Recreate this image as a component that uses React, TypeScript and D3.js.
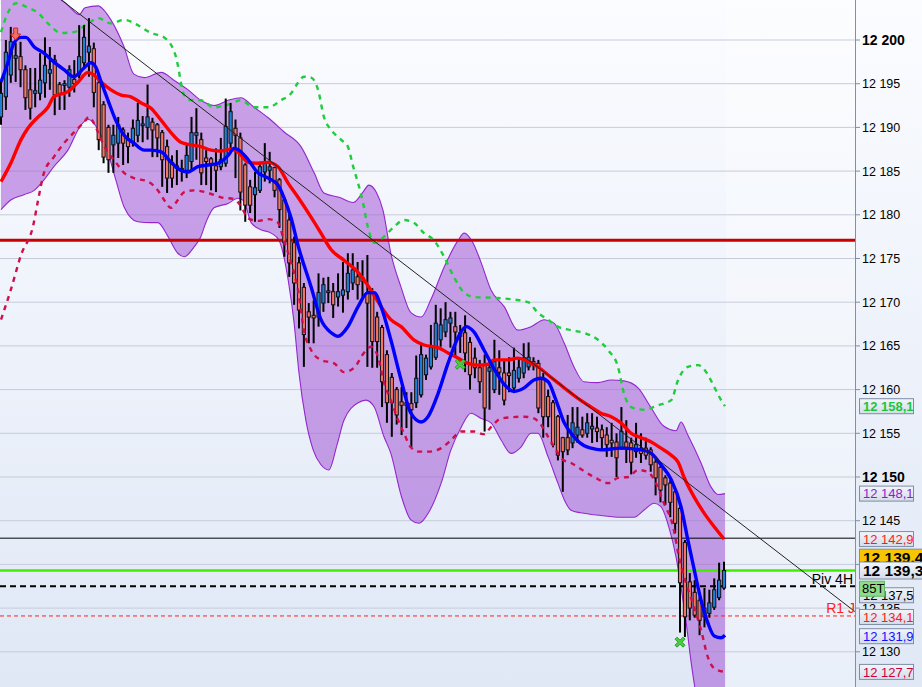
import React from "react";
import * as d3 from "d3";

// ---- candles (index 0..148) ----
const opens = [12191.2,12193.5,12196.0,12197.9,12198.1,12196.6,12194.3,12193.9,12193.9,12195.1,12196.2,12197.7,12194.9,12194.8,12194.6,12195.5,12196.0,12197.4,12198.6,12199.0,
12195.1,12192.6,12190.0,12188.0,12188.2,12189.7,12188.6,12188.3,12189.1,12190.2,12190.0,12190.6,12190.3,12189.4,12187.8,12186.0,12185.3,12185.3,12185.1,12186.1,
12189.1,12188.6,12186.5,12186.4,12185.6,12185.5,12185.9,12188.2,12189.9,12188.8,12185.7,12183.2,12182.3,12182.8,12184.9,12185.1,12185.4,12184.0,12181.7,12179.4,
12176.8,12174.5,12171.7,12168.9,12168.5,12168.3,12169.9,12171.1,12171.2,12170.6,12170.8,12171.2,12172.2,12172.9,12172.8,12171.1,12171.1,12168.3,12167.1,12164.0,
12161.4,12160.0,12158.6,12158.2,12158.4,12158.5,12159.4,12161.7,12162.6,12163.7,12165.7,12166.6,12167.6,12167.2,12166.5,12166.5,12165.4,12163.6,12162.5,12162.8,
12162.1,12160.0,12162.5,12161.9,12161.9,12160.2,12161.3,12161.9,12162.6,12163.2,12163.0,12161.3,12159.2,12158.5,12156.9,12154.5,12154.5,12153.9,12154.8,12155.4,
12155.0,12155.5,12155.6,12155.4,12154.8,12154.2,12154.0,12153.4,12154.0,12153.9,12152.9,12153.3,12153.3,12153.1,12151.7,12151.1,12149.9,12149.3,12148.3,12146.4,
12142.5,12138.0,12136.8,12135.9,12134.0,12134.4,12135.1,12136.2,12137.3];
const highs = [12195.4,12200.0,12201.5,12199.7,12199.8,12197.1,12196.8,12196.8,12198.5,12200.3,12199.2,12198.3,12195.2,12195.4,12197.1,12197.7,12201.7,12201.7,12202.5,12199.7,
12195.4,12193.0,12190.3,12190.3,12191.2,12190.0,12189.4,12190.9,12192.8,12191.3,12194.9,12191.1,12190.5,12189.7,12188.6,12186.8,12187.4,12186.3,12188.0,12191.2,
12192.2,12189.4,12187.4,12186.6,12187.6,12188.8,12193.3,12192.8,12190.9,12189.4,12185.9,12184.0,12184.9,12185.9,12188.2,12187.2,12185.5,12184.2,12182.0,12180.2,
12177.5,12175.2,12172.2,12169.9,12170.2,12173.3,12172.8,12172.9,12172.2,12173.3,12174.6,12175.6,12175.6,12174.6,12174.8,12175.4,12171.6,12168.9,12167.4,12164.5,
12161.9,12160.3,12160.3,12159.7,12159.7,12163.9,12165.1,12164.0,12167.4,12169.7,12169.3,12170.0,12168.9,12168.9,12167.4,12168.5,12166.0,12164.8,12163.4,12164.0,
12163.4,12165.7,12164.5,12163.4,12163.7,12164.8,12163.7,12165.3,12165.4,12163.7,12163.4,12161.9,12160.0,12158.8,12157.1,12154.6,12157.1,12158.0,12158.0,12156.9,
12157.3,12157.3,12156.9,12156.0,12155.7,12156.2,12155.0,12158.0,12156.5,12154.5,12156.2,12155.0,12154.5,12153.4,12152.3,12151.6,12150.2,12149.7,12148.6,12146.6,
12142.8,12139.0,12138.2,12136.3,12137.3,12137.1,12138.4,12140.2,12140.3];
const lows = [12190.3,12192.0,12195.1,12195.2,12194.6,12192.0,12190.9,12192.3,12193.1,12193.4,12194.3,12191.4,12192.0,12192.0,12193.5,12194.0,12195.6,12196.9,12195.8,12192.3,
12187.4,12185.9,12184.8,12184.8,12186.5,12185.7,12185.9,12187.8,12188.3,12188.3,12188.6,12186.6,12186.6,12183.2,12182.5,12183.1,12183.4,12183.8,12184.2,12185.1,
12186.3,12183.4,12183.4,12182.8,12182.6,12185.1,12185.5,12187.6,12184.2,12180.5,12179.2,12180.2,12179.2,12182.5,12183.8,12183.6,12182.0,12178.5,12175.2,12172.9,
12169.7,12167.0,12162.6,12165.3,12165.3,12167.2,12168.9,12169.9,12168.2,12169.5,12168.8,12170.3,12171.4,12170.3,12170.3,12162.6,12162.5,12162.5,12158.0,12156.2,
12154.6,12156.0,12154.8,12155.6,12153.4,12157.9,12159.1,12161.1,12162.3,12163.4,12164.9,12166.0,12164.8,12163.7,12164.2,12162.0,12160.0,12161.3,12159.6,12155.2,
12157.7,12159.6,12159.4,12158.2,12159.7,12159.6,12160.8,12161.3,12162.2,12162.2,12157.3,12154.5,12155.7,12153.4,12151.9,12148.3,12152.5,12153.3,12153.9,12154.5,
12154.5,12153.9,12154.0,12153.1,12152.3,12152.3,12150.0,12153.1,12151.6,12150.3,12152.2,12151.6,12152.0,12150.6,12147.9,12147.1,12146.8,12145.4,12143.6,12132.2,
12131.7,12133.6,12133.9,12131.9,12132.8,12133.9,12134.8,12135.9,12137.1];
const closes = [12193.9,12198.6,12199.8,12198.2,12196.6,12193.4,12192.2,12194.2,12195.4,12197.1,12196.6,12193.7,12193.9,12195.0,12196.6,12195.0,12198.1,12200.3,12199.3,12194.0,
12188.6,12186.6,12186.3,12189.1,12190.3,12188.2,12187.8,12189.9,12190.8,12190.4,12191.2,12189.7,12188.8,12186.3,12184.2,12184.2,12185.6,12185.0,12186.8,12189.4,
12189.4,12184.8,12186.1,12185.7,12185.1,12186.3,12190.1,12191.8,12189.1,12182.6,12181.1,12181.1,12183.1,12185.5,12185.9,12185.5,12182.8,12180.6,12176.8,12174.5,
12172.2,12169.1,12166.3,12168.3,12168.2,12171.1,12172.0,12171.3,12169.7,12171.2,12171.4,12173.3,12173.7,12172.0,12172.4,12169.9,12165.5,12165.5,12160.9,12158.5,
12158.5,12157.1,12158.2,12158.5,12157.7,12161.3,12164.0,12163.6,12164.8,12167.6,12167.4,12168.0,12168.2,12166.6,12166.1,12164.2,12161.7,12162.5,12160.9,12157.9,
12162.5,12163.2,12162.0,12158.8,12161.6,12162.2,12162.5,12163.6,12163.7,12162.8,12157.9,12156.9,12156.9,12153.7,12152.5,12152.9,12153.1,12156.2,12155.7,12154.8,
12156.2,12155.8,12155.2,12154.5,12153.7,12153.9,12152.2,12155.2,12153.4,12151.7,12153.7,12152.7,12152.5,12151.4,12149.9,12148.5,12149.1,12147.1,12144.7,12137.9,
12134.0,12135.0,12134.2,12133.6,12135.0,12135.6,12137.1,12138.2,12139.3];

// ---- indicator lines: [candle index, price] ----
const bandUpper: [number, number][] = [[0,12206.9],[7.2,12205.7],[13.3,12204.2],[14.7,12203.4],[16,12202.9],[17.2,12203.7],[19.9,12203.9],[21.1,12203.4],[22.5,12202.3],[25.2,12199.2],
[27.2,12196.1],[29.3,12195.7],[32.8,12196.3],[35.4,12195.4],[38.3,12194.3],[40.9,12193.1],[43.6,12192.5],[46.5,12193.1],[49.1,12193.4],[51.8,12192.3],
[54.7,12191.1],[57.9,12189.5],[61.4,12187.8],[64.1,12184.8],[66.1,12182.5],[69.2,12182.0],[72.1,12181.4],[74.1,12182.6],[75.3,12183.4],[76.8,12182.6],
[78.2,12180.5],[79.8,12175.6],[81.9,12171.7],[83.9,12168.8],[86,12168.3],[88,12170.3],[90.7,12174.0],[93.6,12177.1],[94.8,12177.9],[96.6,12176.8],
[98.3,12174.5],[100.3,12171.4],[103,12169.5],[105.8,12166.8],[108.5,12167.2],[111.2,12168.0],[113.2,12167.6],[115.3,12165.3],[117.3,12162.6],[119.3,12160.9],
[122.2,12160.8],[124.9,12161.1],[127.5,12161.0],[130.4,12160.2],[133.1,12157.9],[135.7,12155.8],[138.2,12155.3],[139.2,12156.3],[140.6,12154.8],[143.3,12151.6],
[145.3,12148.9],[146.8,12148.0],[148.2,12148.1]];
const bandLower: [number, number][] = [[0,12180.6],[2,12181.7],[4.7,12182.3],[6.8,12182.8],[8.8,12184.0],[10.8,12185.5],[13.7,12187.4],[16.4,12190.3],[18,12190.9],[19.9,12189.7],
[21.9,12187.1],[23.5,12184.0],[25.2,12180.9],[28,12179.2],[30.7,12179.1],[32.1,12179.1],[34.2,12177.5],[36.2,12175.6],[37.5,12175.2],[39.5,12176.3],
[40.9,12177.5],[42,12179.2],[43.6,12180.8],[46.5,12181.3],[48.5,12181.9],[49.7,12181.6],[51.2,12179.1],[53.2,12178.3],[55.3,12177.9],[56.9,12177.1],
[58.8,12172.5],[60,12167.6],[61,12161.9],[62.4,12156.5],[63.9,12153.1],[65.5,12151.4],[67.1,12150.8],[68.8,12153.7],[70.2,12156.5],[73.1,12158.5],
[74.7,12158.8],[76.4,12158.0],[78.4,12154.6],[79.8,12152.7],[81.9,12147.9],[83.9,12145.1],[85.6,12144.7],[87.6,12146.0],[90.1,12149.3],[92.1,12153.1],
[94.2,12155.7],[96.2,12157.3],[98.3,12156.7],[100.3,12156.2],[102.4,12154.2],[104.4,12152.7],[106.4,12153.4],[108.5,12155.0],[109.9,12155.0],[112,12152.3],
[114,12149.3],[115.3,12147.4],[116.7,12146.2],[118.7,12145.9],[122.8,12145.6],[126.9,12145.4],[129.6,12145.4],[131.6,12146.2],[133.7,12147.0],[135.1,12146.6],
[136.7,12144.3],[138.2,12140.8],[139.2,12137.4],[140.2,12133.6],[141.2,12129.1],[142.3,12125.1],[145.3,12121.0],[148.2,12119.9]];
const maRed: [number, number][] = [[0,12183.8],[2,12185.9],[4.1,12188.6],[5.5,12189.9],[7.6,12191.2],[9.6,12192.3],[10.8,12193.5],[13.7,12194.1],[15.8,12195.2],[17.8,12196.3],
[19,12196.0],[20.5,12195.2],[22.5,12194.3],[24.6,12193.7],[26.6,12193.5],[28.7,12192.8],[30.7,12192.2],[32.8,12190.8],[34.8,12189.4],[36.8,12188.3],
[38.9,12188.0],[40.9,12187.8],[43,12187.4],[45,12187.3],[47.1,12187.5],[48.7,12187.1],[50.6,12186.0],[52.6,12185.9],[54.7,12186.0],[56.7,12185.5],
[58.8,12183.6],[60.8,12182.0],[63.5,12179.7],[65.5,12177.9],[67.6,12176.0],[70.2,12174.8],[73.1,12173.4],[75.7,12171.4],[77.8,12169.5],[79.8,12168.0],
[81.9,12167.2],[84.5,12165.7],[86.6,12165.1],[89.5,12164.8],[91.5,12164.2],[93.6,12163.6],[95.6,12163.0],[97.6,12162.8],[99.7,12162.9],[100.9,12163.4],
[103.8,12163.4],[105.8,12163.6],[107.9,12163.2],[109.9,12162.6],[112.6,12161.4],[115.3,12160.2],[118.1,12159.0],[120.8,12158.0],[122.8,12157.3],[124.9,12156.9],
[126.9,12156.2],[129,12155.0],[131,12154.5],[133.1,12154.0],[135.1,12153.3],[137.2,12152.5],[138.6,12151.7],[139.8,12150.0],[141.9,12147.7],[143.9,12145.9],
[146,12144.3],[148,12142.9]];
const maBlue: [number, number][] = [[0,12195.2],[1.4,12197.4],[2.7,12199.7],[4.1,12200.3],[5.1,12200.3],[6.8,12199.2],[8.8,12198.5],[10.8,12197.5],[12.9,12196.6],[14.9,12195.8],
[17,12196.8],[18.4,12197.4],[19.4,12196.9],[20.5,12195.2],[21.9,12193.1],[23.5,12190.8],[25.2,12189.1],[27.2,12188.2],[29.3,12187.4],[30.7,12187.4],
[32.8,12187.2],[34.8,12186.0],[36.8,12185.1],[38.3,12184.9],[40.3,12185.5],[42.4,12185.7],[44.4,12185.9],[46.5,12186.8],[47.7,12187.6],[48.7,12187.4],
[50.6,12186.3],[52.6,12184.8],[54.7,12184.2],[56.7,12183.4],[57.9,12182.0],[59.4,12179.6],[60.8,12176.5],[63.5,12171.7],[65.5,12168.0],[67.6,12166.5],
[69,12166.1],[71,12167.2],[73.1,12169.5],[75.1,12171.1],[76.4,12171.1],[77.8,12169.5],[79.8,12165.7],[81.9,12161.1],[83.9,12157.3],[86,12156.3],
[87.4,12156.9],[89.5,12159.6],[91.5,12163.0],[93.6,12166.0],[95.2,12167.2],[96.8,12166.6],[98.9,12164.5],[100.9,12162.4],[103,12160.6],[105,12159.8],
[107.1,12160.2],[109.1,12161.1],[110.5,12161.3],[112,12160.9],[113.6,12158.8],[115.3,12156.2],[117.3,12154.6],[119.3,12153.6],[120.8,12153.3],[122.8,12153.1],
[126.9,12153.3],[131,12153.1],[133.1,12152.7],[135.1,12151.4],[137.2,12149.7],[139.2,12146.6],[140.6,12142.8],[141.9,12139.4],[143.3,12135.9],[144.7,12133.3],
[146,12131.8],[147.4,12131.6],[148.2,12131.9]];
const envUpper: [number, number][] = [[0,12200.9],[1.4,12203.1],[3.1,12204.2],[5.5,12203.7],[7.6,12203.1],[9.6,12201.9],[12.3,12200.8],[14.9,12200.9],[17.8,12201.9],[19.9,12202.5],
[22.5,12201.9],[25.2,12202.3],[28,12201.7],[30.7,12200.8],[33.4,12200.3],[35.8,12198.1],[37.5,12193.7],[38.9,12193.1],[40.9,12193.1],[43.6,12192.3],
[46.5,12192.6],[49.1,12193.1],[51.8,12192.3],[54.7,12192.3],[57.3,12193.1],[59.4,12193.9],[60.8,12195.1],[62,12195.8],[63.5,12195.7],[64.9,12194.3],
[66.1,12191.2],[67.6,12189.7],[69.6,12188.6],[71,12187.8],[72.1,12185.5],[73.1,12183.6],[74.1,12181.4],[75.1,12178.6],[76.4,12176.8],[78.4,12177.5],
[80.4,12178.6],[82.5,12179.4],[84.5,12179.1],[86.6,12177.9],[88.6,12177.1],[90.7,12175.2],[92.7,12172.9],[94.8,12171.1],[96.8,12170.6],[100.9,12170.5],
[105,12170.3],[107.9,12170.0],[109.9,12168.8],[112,12168.0],[114,12167.2],[116.7,12166.8],[119.3,12166.5],[122.2,12165.7],[124.3,12164.5],[126.3,12162.6],
[127.5,12159.6],[129,12158.0],[131.6,12157.7],[134.5,12158.2],[137.2,12158.8],[138.6,12161.1],[140.6,12162.6],[142.7,12162.8],[144.7,12161.7],[146,12160.3],
[147.4,12158.8],[148.2,12158.1]];
const envLower: [number, number][] = [[0,12168.0],[2,12171.4],[4.1,12175.4],[6.6,12178.8],[7.6,12181.7],[8.8,12184.8],[10.8,12186.6],[12.9,12188.2],[14.9,12189.4],[17,12190.6],
[18,12191.2],[19,12190.5],[20.5,12188.6],[21.9,12187.1],[23.1,12186.3],[25.2,12184.8],[27.2,12184.2],[30.1,12183.8],[32.1,12182.8],[33.4,12181.7],
[34.8,12180.8],[36.2,12181.7],[37.5,12182.6],[39.5,12182.8],[42.4,12182.5],[45,12182.0],[47.7,12181.8],[49.1,12181.0],[50.6,12179.6],[52.6,12179.3],
[54.7,12179.5],[56.7,12179.1],[57.9,12177.1],[59.4,12174.5],[60.8,12171.4],[62,12166.8],[63.5,12164.5],[65.5,12163.4],[68.2,12163.0],[70.2,12162.0],
[72.3,12162.5],[74.3,12164.2],[75.7,12164.9],[77.2,12163.7],[78.4,12160.8],[79.8,12158.8],[81.3,12156.5],[82.5,12155.0],[83.9,12153.4],[85.6,12152.9],
[87.6,12152.9],[90.1,12153.3],[92.1,12154.2],[94.2,12155.2],[96.8,12155.2],[98.9,12154.9],[100.3,12155.7],[102.4,12156.7],[107.1,12156.9],[109.1,12156.7],
[110.5,12156.0],[112,12154.6],[113.6,12153.1],[115,12152.0],[116.7,12151.6],[118.7,12150.9],[121.4,12150.0],[124.3,12149.3],[126.3,12149.9],[128.4,12150.0],
[130.4,12150.8],[132.4,12150.6],[133.7,12149.7],[135.7,12147.0],[137.6,12144.3],[138.8,12140.8],[140.2,12137.9],[141.9,12135.1],[143.3,12132.5],[144.7,12129.4],
[146,12128.1],[148.2,12127.7]];
const trendLine: [number, number][] = [[12.3,12204.6],[174.8,12134.6]];

// ---- levels, ticks, tags, markers ----
const yTicks = [12130,12135,12140,12145,12150,12155,12160,12165,12170,12175,12180,12185,12190,12195,12200];
const hiddenTickLabels = [12140];
const levelResistance = 12177.1;
const levelBlack = 12143.0;
const levelLast = 12139.3;
const levelPivot = 12137.5;
const levelR1 = 12134.1;
const tagValues = [12158.1,12148.1,12142.9,12137.5,12134.1,12131.9,12127.7,12139.4,12139.3];
const sellArrows: [number, number][] = [[3,12200.0]];
const crossMarks: [number, number][] = [[94,12162.9],[139,12131.1]];

const FONT = "'Liberation Sans', Arial, sans-serif";
const tagStyle: Record<string, { color: string; dy: number; bold?: boolean; bg?: string; big?: boolean; clipTop?: boolean }> = {
  "12158.1": { color: "#1fc43a", dy: 0, bold: true },
  "12148.1": { color: "#8a22cc", dy: 0 },
  "12142.9": { color: "#ff1a1a", dy: 0 },
  "12137.5": { color: "#000", dy: 9 },
  "12134.1": { color: "#ff1a1a", dy: 1 },
  "12131.9": { color: "#1010ff", dy: 1 },
  "12127.7": { color: "#c8003c", dy: 0 },
  "12139.4": { color: "#000", dy: -12, bold: true, bg: "#f7c600", big: true, clipTop: true },
  "12139.3": { color: "#000", dy: 0, bold: true, big: true },
};

const fmtTick = (v: number) => `${Math.floor(v / 1000)} ${String(Math.round(v % 1000)).padStart(3, "0")}`;
const fmtTag = (v: number) => {
  const s = v.toFixed(1).replace(".", ",");
  return s.slice(0, 2) + " " + s.slice(2);
};

export default function App() {
  const W = 922, H = 687, AX = 855;
  const x = d3.scaleLinear().domain([0, 148]).range([1, 724]);
  const y = d3.scaleLinear().domain([12130, 12200]).range([651.8, 40]);
  const line = d3.line<[number, number]>().x(d => x(d[0])).y(d => y(d[1])).curve(d3.curveMonotoneX);
  const straight = d3.line<[number, number]>().x(d => x(d[0])).y(d => y(d[1]));
  const lowerRev = line(bandLower.slice().reverse()) as string;
  const bandPath = (line(bandUpper) as string) + "L" + lowerRev.slice(1) + "Z";
  const bw = 3.2;

  return (
    <div style={{ position: "fixed", left: 0, top: 0, width: W, height: H, overflow: "hidden" }}>
      <svg width={W} height={H} style={{ display: "block", fontFamily: FONT }}>
        <defs>
          <linearGradient id="bg" x1="0" y1="0" x2="0" y2="1">
            <stop offset="0" stopColor="#fbfcff" />
            <stop offset="1" stopColor="#e0e8f6" />
          </linearGradient>
          <linearGradient id="tagbg" x1="0" y1="0" x2="0" y2="1">
            <stop offset="0" stopColor="#f2f5fa" />
            <stop offset="1" stopColor="#d5dde9" />
          </linearGradient>
          <clipPath id="plot"><rect x={0} y={0} width={AX} height={H} /></clipPath>
          <clipPath id="goldclip"><rect x={855} y={0} width={67} height={y(levelLast) - 8.5} /></clipPath>
        </defs>
        <rect x={0} y={0} width={W} height={H} fill="url(#bg)" />
        <rect x={x(148) + 2} y={0} width={AX - x(148) - 2} height={H} fill="#ffffff" opacity={0.3} />
        <g clipPath="url(#plot)">
          {yTicks.map(t => (
            <line key={t} x1={0} x2={AX} y1={y(t)} y2={y(t)} stroke="#c6ccd9" strokeWidth={1} />
          ))}
          <path d={bandPath} fill="#a45ad6" fillOpacity={0.56} stroke="none" />
          <path d={line(bandUpper) as string} fill="none" stroke="#9228cc" strokeWidth={1.1} />
          <path d={line(bandLower) as string} fill="none" stroke="#9228cc" strokeWidth={1.1} />
          <line x1={0} x2={AX} y1={y(levelResistance)} y2={y(levelResistance)} stroke="#c80000" strokeWidth={3} />
          <line x1={0} x2={AX} y1={y(levelBlack)} y2={y(levelBlack)} stroke="#000" strokeWidth={1} />
          <line x1={0} x2={AX} y1={y(levelLast)} y2={y(levelLast)} stroke="#3ef000" strokeWidth={2.5} />
          <line x1={0} x2={AX} y1={y(levelPivot)} y2={y(levelPivot)} stroke="#000" strokeWidth={2} strokeDasharray="6,4" />
          <line x1={0} x2={AX} y1={y(levelR1)} y2={y(levelR1)} stroke="#ff2020" strokeWidth={1} strokeDasharray="4,3" />
          <path d={line(envUpper) as string} fill="none" stroke="#1fcc3c" strokeWidth={2.4} strokeDasharray="5,5" />
          {opens.map((o, i) => {
            const c = closes[i];
            const up = c >= o;
            const top = y(Math.max(o, c));
            const h = Math.max(1, y(Math.min(o, c)) - top);
            return (
              <g key={i}>
                <line x1={x(i)} x2={x(i)} y1={y(highs[i])} y2={y(lows[i])} stroke="#000" strokeWidth={2} />
                <rect x={x(i) - bw / 2} y={top} width={bw} height={h} fill={up ? "#1f7fd4" : "#f27565"} stroke="#111" strokeWidth={1} />
              </g>
            );
          })}
          <path d={line(envLower) as string} fill="none" stroke="#cf0f4a" strokeWidth={2.4} strokeDasharray="5,5" />
          <path d={line(maRed) as string} fill="none" stroke="#ff0000" strokeWidth={3.4} />
          <path d={line(maBlue) as string} fill="none" stroke="#0000ff" strokeWidth={3.4} />
          <path d={straight(trendLine) as string} fill="none" stroke="#222" strokeWidth={1} />
          {sellArrows.map(([i, v], k) => {
            const cx = x(i), ty = y(v);
            const d = `M${cx},${ty} L${cx - 5},${ty - 6} L${cx - 2},${ty - 6} L${cx - 2},${ty - 12} L${cx + 2},${ty - 12} L${cx + 2},${ty - 6} L${cx + 5},${ty - 6} Z`;
            return <path key={k} d={d} fill="#f07060" stroke="#d82020" strokeWidth={1} />;
          })}
          {crossMarks.map(([i, v], k) => {
            const cx = x(i), cy = y(v);
            const d = `M${cx - 5},${cy - 3} L${cx - 3},${cy - 5} L${cx},${cy - 2} L${cx + 3},${cy - 5} L${cx + 5},${cy - 3} L${cx + 2},${cy} L${cx + 5},${cy + 3} L${cx + 3},${cy + 5} L${cx},${cy + 2} L${cx - 3},${cy + 5} L${cx - 5},${cy + 3} L${cx - 2},${cy} Z`;
            return <path key={k} d={d} fill="#48d040" stroke="#2a9a28" strokeWidth={1} />;
          })}
          <text x={853} y={y(levelPivot) - 2} textAnchor="end" fontSize={14} fill="#000">Piv 4H</text>
          <text x={855} y={y(levelR1) - 3} textAnchor="end" fontSize={14} fill="#ff2020">R1 J</text>
        </g>
        <line x1={AX + 0.5} x2={AX + 0.5} y1={0} y2={H} stroke="#8090a6" strokeWidth={1} />
        {yTicks.map(t => {
          const bold = t % 50 === 0;
          return (
            <g key={t}>
              <line x1={AX} x2={AX + 5} y1={y(t)} y2={y(t)} stroke="#8090a6" />
              {hiddenTickLabels.indexOf(t) < 0 ? (
                <text x={862} y={y(t) + (bold ? 5 : 4.5)} fontSize={bold ? 14 : 12.5} fontWeight={bold ? "bold" : "normal"} fill="#000">{fmtTick(t)}</text>
              ) : null}
            </g>
          );
        })}
        {tagValues.map(v => {
          const st = tagStyle[v.toFixed(1)];
          const cy = y(v) + st.dy;
          const hgt = st.big ? 17 : 15;
          const wid = st.big ? 70 : 54;
          return (
            <g key={v} clipPath={st.clipTop ? "url(#goldclip)" : undefined}>
              <rect x={859.5} y={cy - hgt / 2} width={wid} height={hgt} fill={st.bg ? st.bg : "url(#tagbg)"} stroke="#7d8da4" strokeWidth={1} />
              <text x={863} y={cy + (st.big ? 5.5 : 4.8)} fontSize={st.big ? 15.5 : 13} fontWeight={st.bold ? "bold" : "normal"} fill={st.color}>{fmtTag(v)}</text>
              {v === levelPivot ? (
                <g>
                  <rect x={859.5} y={y(levelPivot) - 5} width={25} height={15} fill="#8cdc8c" stroke="#62b862" />
                  <text x={862} y={y(levelPivot) + 7} fontSize={13} fill="#000">85T</text>
                </g>
              ) : null}
            </g>
          );
        })}
      </svg>
    </div>
  );
}
